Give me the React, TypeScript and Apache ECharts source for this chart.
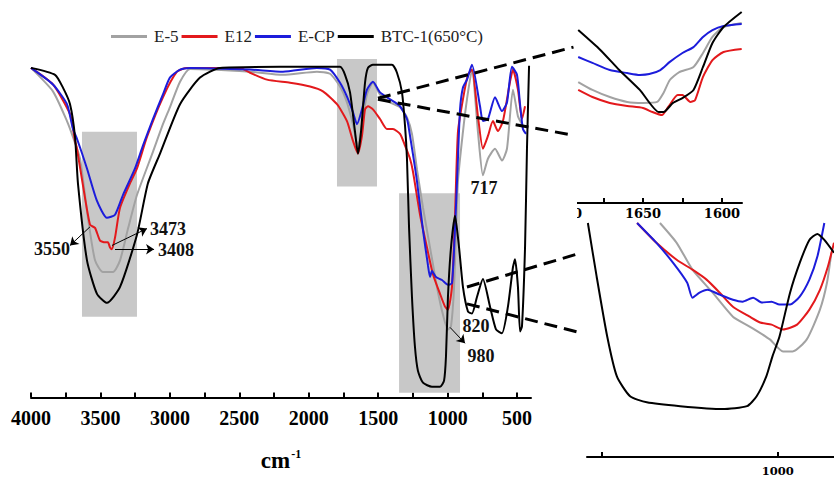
import React, { useEffect, useRef } from "react";
import * as echarts from "echarts";

// ---------- data ----------
const seriesNames = ["E-5", "E12", "E-CP", "BTC-1(650°C)"];
const seriesColors = ["#a2a2a2", "#e3191c", "#1c1cdb", "#000000"];

// main spectrum: [wavenumber (cm-1), transmittance (a.u.)]
const e5Main = [[4000,95.4],[3842,88.6],[3741,80.0],[3698,75.4],[3647,69.1],[3590,52.0],[3539,39.7],[3482,36.3],[3410,36.3],[3359,39.7],[3300,49.1],[3237,58.6],[3122,71.1],[3050,79.1],[3000,84.0],[2927,91.4],[2855,95.1],[2423,94.3],[2186,93.4],[1941,94.3],[1847,93.7],[1775,90.0],[1725,85.4],[1682,79.1],[1646,72.6],[1617,79.1],[1581,87.7],[1538,91.1],[1487,87.7],[1415,85.4],[1343,84.0],[1293,81.1],[1257,76.3],[1221,66.0],[1178,55.0],[1127,43.4],[1077,32.0],[1034,24.0],[998,19.7],[976,20.6],[954,32.0],[926,62.6],[890,76.9],[861,86.3],[825,94.9],[782,76.9],[746,64.3],[710,69.1],[659,72.0],[609,68.6],[573,72.0],[530,89.1],[494,81.4],[465,79.1]];
const e12Main = [[4000,95.4],[3842,90.6],[3719,82.0],[3683,74.3],[3669,72.0],[3626,61.4],[3575,50.0],[3539,49.1],[3503,45.4],[3467,44.9],[3446,44.9],[3431,43.4],[3417,42.9],[3395,46.3],[3359,54.9],[3287,62.0],[3237,66.3],[3165,75.4],[3050,86.9],[2949,94.3],[2877,95.4],[2495,95.4],[2423,94.0],[2301,92.0],[2135,91.1],[1991,90.0],[1898,88.6],[1797,84.9],[1725,80.0],[1682,74.3],[1646,70.6],[1617,75.7],[1595,83.4],[1574,84.3],[1538,83.4],[1487,80.6],[1437,77.7],[1394,77.7],[1343,76.3],[1307,72.9],[1271,69.1],[1250,65.4],[1199,52.9],[1149,43.4],[1106,35.7],[1055,30.0],[1019,26.3],[998,25.4],[969,32.0],[947,52.9],[926,76.9],[890,86.3],[854,93.4],[825,94.9],[782,81.4],[746,72.0],[710,75.7],[674,80.0],[638,77.1],[602,80.0],[551,91.4],[530,94.9],[494,89.1],[465,80.6],[443,84.3]];
const ecpMain = [[4000,95.4],[3842,90.6],[3741,84.9],[3698,77.7],[3669,74.9],[3597,66.3],[3525,56.9],[3453,52.0],[3395,52.9],[3338,58.6],[3251,66.3],[3194,72.9],[3122,80.6],[3050,87.7],[3000,92.6],[2927,94.9],[2855,95.4],[2423,94.9],[2186,94.3],[1941,95.4],[1847,94.9],[1775,91.1],[1725,87.1],[1682,82.6],[1653,79.1],[1617,83.4],[1581,89.1],[1538,91.4],[1487,88.3],[1415,86.3],[1343,84.3],[1293,80.6],[1271,75.7],[1221,62.6],[1178,48.5],[1142,38.3],[1127,34.9],[1113,36.6],[1084,34.9],[1041,34.0],[998,32.6],[969,33.1],[947,49.1],[926,69.1],[911,83.4],[890,89.7],[861,92.0],[825,96.3],[767,84.3],[746,80.0],[710,80.6],[659,86.9],[609,82.9],[573,85.4],[537,95.7],[501,93.4],[479,84.9],[458,77.7],[436,76.3]];
const btcMain = [[4000,95.4],[3827,93.4],[3770,89.7],[3719,84.9],[3683,75.4],[3662,62.0],[3597,39.7],[3525,30.0],[3453,27.4],[3359,32.0],[3237,47.1],[3158,62.0],[3071,70.6],[2927,84.9],[2783,92.6],[2639,95.4],[2207,95.7],[1775,95.7],[1739,93.4],[1703,88.3],[1667,76.9],[1646,70.6],[1624,76.9],[1595,91.1],[1574,95.4],[1538,96.3],[1401,96.3],[1365,94.0],[1329,88.3],[1307,78.6],[1293,69.1],[1278,49.1],[1257,29.1],[1236,14.9],[1214,7.7],[1178,4.3],[1113,3.1],[1055,3.1],[1026,4.9],[1012,12.0],[998,29.1],[976,43.4],[947,52.6],[918,43.4],[890,32.0],[854,24.9],[825,24.3],[789,29.1],[746,34.3],[695,26.3],[652,19.7],[609,18.6],[566,26.3],[530,37.7],[515,40.0],[494,32.0],[479,19.1],[465,20.6],[443,43.4],[429,72.0],[414,96.0]];

// inset 1 (1700–1590 cm-1)
const e5Inset1 = [[1691,59.6],[1682,55.7],[1671,52.2],[1660,49.8],[1650,49.3],[1641,49.8],[1637,54.2],[1633,60.6],[1627,64.5],[1618,67.0],[1612,73.9],[1606,81.8],[1599,86.7],[1587.5,88.7]];
const e12Inset1 = [[1691,55.7],[1682,52.2],[1671,49.3],[1660,47.8],[1650,46.8],[1644,44.8],[1638,43.3],[1634,47.3],[1628,53.2],[1625,53.2],[1620,49.8],[1617,50.7],[1612,62.1],[1606,70.4],[1599,74.4],[1587.5,75.9]];
const ecpInset1 = [[1691,71.9],[1682,69.0],[1671,65.5],[1660,64.0],[1652,63.1],[1646,63.5],[1639,65.5],[1633,69.5],[1625,73.9],[1618,76.8],[1612,81.8],[1606,85.2],[1599,87.2],[1587.5,88.2]];
const btcInset1 = [[1691,85.2],[1677,75.4],[1665,65.5],[1652,55.7],[1640,44.8],[1637,44.8],[1631,49.3],[1625,51.7],[1618,55.7],[1612,67.0],[1606,78.8],[1599,86.7],[1587.5,94.1]];

// inset 2 (1215–935 cm-1)
const e5Inset2 = [[1134,96.7],[1115,88.5],[1097,77.4],[1074,67.9],[1051,58.0],[1032,53.9],[1009,48.6],[994,43.6],[983,43.6],[967,48.6],[952,60.9],[944,72.0],[939,84.4]];
const e12Inset2 = [[1160,96.7],[1138,88.5],[1115,81.5],[1097,77.4],[1081,73.3],[1066,67.9],[1051,62.1],[1032,58.0],[1020,55.6],[1007,54.7],[994,52.7],[978,54.7],[964,60.9],[952,69.1],[943,78.6],[936,88.5]];
const ecpInset2 = [[1160,96.7],[1138,88.5],[1119,80.2],[1103,72.0],[1097,65.8],[1089,67.9],[1080,69.1],[1066,67.1],[1051,65.0],[1040,64.2],[1028,65.8],[1018,63.8],[1007,64.2],[998,63.0],[986,63.0],[975,66.3],[964,73.3],[955,82.7],[947,96.7]];
const btcInset2 = [[1216,96.7],[1206,74.5],[1194,49.8],[1183,33.3],[1168,25.1],[1149,22.6],[1111,21.0],[1063,19.8],[1035,21.0],[1024,25.1],[1013,33.3],[1006,41.6],[998,49.8],[986,67.9],[975,80.2],[964,89.7],[955,92.2],[947,89.7],[936,84.4]];

// axis ticks
const mainTicks = [4000,3750,3500,3250,3000,2750,2500,2250,2000,1750,1500,1250,1000,750,500];
const mainLabels = [4000,3500,3000,2500,2000,1500,1000,500];
const inset1Ticks = [1700,1675,1650,1625,1600];
const inset1Labels = [1700,1650,1600];
const inset2Ticks = [1200,1000];
const inset2Labels = [1000];

// highlighted regions: [wnFrom, wnTo, Tlow, Thigh]
const highlightBoxes = [[3633,3237,23.4,76.9],[1797,1509,61.1,98.0],[1350,911,1.4,59.1]];

// peak annotations
const peakLabels = [
  { text: "3550", at: [3849, 42.9], from: [3575, 49.4], to: [3719, 44.0] },
  { text: "3473", at: [3014, 48.9], from: [3417, 44.0], to: [3165, 48.9] },
  { text: "3408", at: [2956, 42.6], from: [3395, 42.9], to: [3114, 42.9] },
  { text: "717", at: [738, 60.6] },
  { text: "820", at: [796, 20.6] },
  { text: "980", at: [760, 12.0], from: [983, 20.3], to: [875, 15.7] },
];

// zoom connectors: main coord -> inset coord
const connectors = [
  { from: [1502, 86.6], grid: 1, to: [1694, 76.8] },
  { from: [1502, 86.3], grid: 1, to: [1695, 33.5] },
  { from: [861, 32.0], grid: 2, to: [1227, 84.0] },
  { from: [861, 27.1], grid: 2, to: [1225, 51.4] },
];

const serif = "'Liberation Serif', 'Times New Roman', serif";
const wideSerif = "'DejaVu Serif', serif";

export default function App() {
  const ref = useRef<HTMLDivElement>(null);
  useEffect(() => {
    const chart = echarts.init(ref.current!, null, { renderer: "svg" });
    const groups = [
      [e5Main, e12Main, ecpMain, btcMain],
      [e5Inset1, e12Inset1, ecpInset1, btcInset1],
      [e5Inset2, e12Inset2, ecpInset2, btcInset2],
    ];
    const series: any[] = [];
    groups.forEach((grp, gi) => {
      grp.forEach((data, si) => {
        const s: any = {
          type: "line",
          name: seriesNames[si],
          data,
          xAxisIndex: gi,
          yAxisIndex: gi,
          symbol: "none",
          showSymbol: false,
          smooth: 0.2,
          lineStyle: { color: seriesColors[si], width: 2 },
          itemStyle: { color: seriesColors[si] },
          z: 2 + si,
          animation: false,
        };
        if (gi === 0 && si === 0) {
          s.markArea = {
            silent: true,
            itemStyle: { color: "#c8c8c8" },
            data: highlightBoxes.map((b) => [{ coord: [b[0], b[2]] }, { coord: [b[1], b[3]] }]),
          };
        }
        if (gi === 0 && si === 3) {
          s.markLine = {
            silent: true,
            symbol: ["none", "arrow"],
            symbolSize: 8,
            label: { show: false },
            lineStyle: { color: "#000", width: 1, type: "solid" },
            data: peakLabels.filter((p) => p.from).map((p) => [{ coord: p.from }, { coord: p.to }]),
          };
          s.markPoint = {
            silent: true,
            symbol: "rect",
            symbolSize: 1,
            itemStyle: { color: "rgba(0,0,0,0)" },
            label: {
              show: true,
              position: "inside",
              formatter: "{b}",
              fontFamily: serif,
              fontWeight: "bold",
              fontSize: 18,
              color: "#111",
            },
            data: peakLabels.map((p) => ({ name: p.text, coord: p.at })),
          };
        }
        series.push(s);
      });
    });

    const axisCommon = (fontFamily: string, fontSize: number, margin: number) => ({
      type: "value",
      inverse: true,
      axisLine: { show: true, onZero: false, lineStyle: { color: "#000", width: 2 } },
      axisTick: { show: true, inside: true, length: 5, lineStyle: { color: "#000", width: 2 } },
      axisLabel: { fontFamily, fontWeight: "bold", fontSize, color: "#000", margin, formatter: (v: number) => String(v) },
      splitLine: { show: false },
    });

    const main = axisCommon(serif, 20, 10) as any;
    main.min = 400;
    main.max = 4000;
    main.axisTick.customValues = mainTicks;
    main.axisLabel.customValues = mainLabels;
    main.name = "{a|cm}{b|-1}";
    main.nameLocation = "middle";
    main.nameGap = 50;
    main.nameTextStyle = {
      rich: {
        a: { fontFamily: serif, fontWeight: "bold", fontSize: 23, color: "#000", lineHeight: 26 },
        b: { fontFamily: serif, fontWeight: "bold", fontSize: 12, color: "#000", lineHeight: 26, verticalAlign: "top", padding: [0, 0, 12, 1] },
      },
    };

    const in1 = axisCommon(wideSerif, 13, 4) as any;
    in1.min = 1587.3;
    in1.max = 1700;
    in1.axisTick.customValues = inset1Ticks;
    in1.axisLabel.customValues = inset1Labels;
    in1.gridIndex = 1;

    const in2 = axisCommon(wideSerif, 11.5, 8) as any;
    in2.min = 936;
    in2.max = 1217;
    in2.axisTick.customValues = inset2Ticks;
    in2.axisLabel.customValues = inset2Labels;
    in2.gridIndex = 2;

    const yHidden = (gi: number) => ({ type: "value", gridIndex: gi, min: 0, max: 100, show: false });

    chart.setOption({
      animation: false,
      backgroundColor: "#fff",
      legend: {
        data: seriesNames,
        left: 106,
        top: 23,
        icon: "rect",
        itemWidth: 36,
        itemHeight: 3,
        itemGap: 3,
        textStyle: { fontFamily: serif, fontSize: 17, color: "#222", padding: [0, 0, 0, 2] },
      },
      grid: [
        { left: 31, top: 52, width: 500, height: 350 },
        { left: 564, top: 0, width: 178, height: 203 },
        { left: 587, top: 215, width: 247, height: 243 },
      ],
      xAxis: [main, in1, in2],
      yAxis: [yHidden(0), yHidden(1), yHidden(2)],
      series,
    });

    const lines = connectors.map((c) => {
      const p1 = chart.convertToPixel({ gridIndex: 0 }, c.from) as number[];
      const p2 = chart.convertToPixel({ gridIndex: c.grid }, c.to) as number[];
      return {
        type: "line",
        silent: true,
        z: 50,
        shape: { x1: p1[0], y1: p1[1], x2: p2[0], y2: p2[1] },
        style: { stroke: "#000", lineWidth: 3, lineDash: [13, 7] },
      };
    });
    chart.setOption({
      graphic: [
        ...lines,
        { type: "rect", silent: true, z: 100, shape: { x: 538, y: 198, width: 39, height: 25 }, style: { fill: "#fff" } },
      ],
    });
    return () => chart.dispose();
  }, []);
  return <div ref={ref} style={{ position: "fixed", left: 0, top: 0, width: 834, height: 477 }} />;
}
